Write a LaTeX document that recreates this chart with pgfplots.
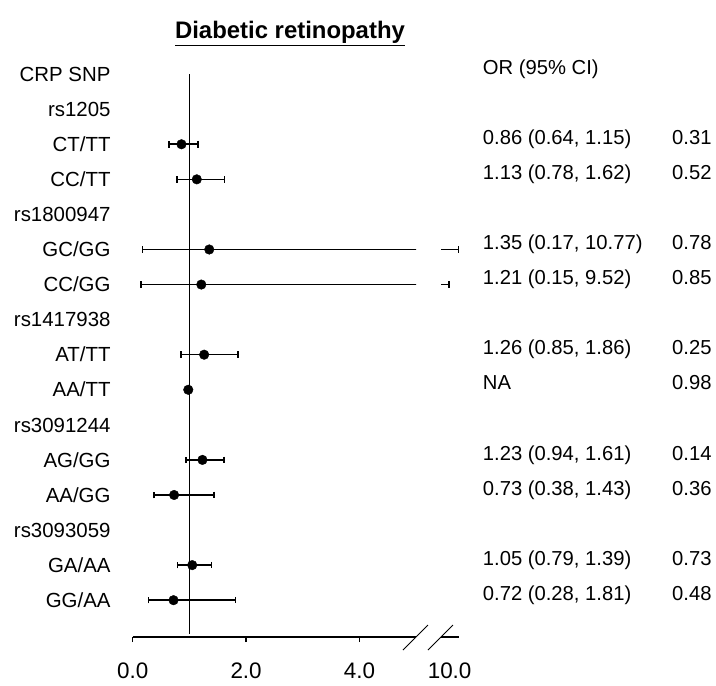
\documentclass[border=0pt]{standalone}
\usepackage{pgfplots}
\pgfplotsset{compat=1.18}
\usepackage{pgfplotstable}
\usepackage{fontspec}
\setmainfont{Liberation Sans}

\pgfplotstableread{
y or lo hi
-2 0.86 0.64 1.15
-3 1.13 0.78 1.62
-5 1.35 0.17 10.77
-6 1.21 0.15 9.52
-8 1.26 0.85 1.86
-11 1.23 0.94 1.61
-12 0.73 0.38 1.43
-14 1.05 0.79 1.39
-15 0.72 0.28 1.81
}\ordata

\pgfplotsset{
  forest/.style={
    scale only axis, height=580.4bp,
    ymin=-16.05, ymax=0.5,
    axis x line*=bottom, axis y line=none,
    x axis line style={line width=1.6bp},
    tick align=outside,
    major tick style={line width=1.4bp, black},
    xticklabel style={font=\fontsize{22.5}{26}\selectfont, inner sep=0pt, anchor=north},
    clip marker paths=true,
  },
  ciplot/.style={
    only marks, mark=*, mark size=4.8bp, black,
    error bars/.cd, x dir=both, x explicit,
    error bar style={line width=1.6bp, black},
    error mark=|,
    error mark options={mark size=3.3bp, line width=1.6bp, black},
  },
}

\begin{document}
\begin{tikzpicture}[x=1bp,y=1bp]
\begin{axis}[forest, at={(132.7bp,-637bp)}, anchor=south west,
  width=283.5bp, xmin=0, xmax=5,
  xtick={0,2,4}, xticklabels={0.0,2.0,4.0}, major tick length=5bp,
  xticklabel style={yshift=-21bp}]
  \addplot[black, line width=1.2bp] coordinates {(1,0) (1,-15.95)};
  \addplot[ciplot] table[x=or, y=y,
    x error plus expr=\thisrow{hi}-\thisrow{or},
    x error minus expr=\thisrow{or}-\thisrow{lo}] {\ordata};
  \addplot[only marks, mark=*, mark size=4.8bp, black] coordinates {(0.98,-9)};
\end{axis}
\begin{axis}[forest, at={(441bp,-637bp)}, anchor=south west,
  width=18bp, xmin=8.44, xmax=10.86,
  xtick={10}, xticklabels={10.0}, major tick length=0bp,
  xticklabel style={yshift=-26bp, xshift=-3bp}]
  \addplot[ciplot] table[x=or, y=y,
    x error plus expr=\thisrow{hi}-\thisrow{or},
    x error minus expr=\thisrow{or}-\thisrow{lo}] {\ordata};
\end{axis}
% axis break marks
\draw[line width=1bp] (403,-650) -- (428,-625);
\draw[line width=1bp] (428,-650) -- (453,-625);
% title
\node[anchor=base, inner sep=0pt, font=\bfseries\fontsize{24}{28}\selectfont] at (290,-38.6) {\underline{Diabetic retinopathy}};
% row labels
\foreach \k/\t in {0/CRP SNP, 1/rs1205, 2/CT\slash TT, 3/CC\slash TT, 4/rs1800947, 5/GC\slash GG, 6/CC\slash GG, 7/rs1417938, 8/AT\slash TT, 9/AA\slash TT, 10/rs3091244, 11/AG\slash GG, 12/AA\slash GG, 13/rs3093059, 14/GA\slash AA, 15/GG\slash AA}
  \node[anchor=base east, inner sep=0pt, font=\fontsize{20.5}{24}\selectfont] at (110.7,{-(74+35.07*\k+7.3)}) {\t};
% header
\node[anchor=base west, inner sep=0pt, font=\fontsize{20.3}{24}\selectfont] at (482.7,-74.3) {OR (95\% CI)};
% OR and p values
\foreach \k/\o/\p in {2/{0.86 (0.64, 1.15)}/0.31, 3/{1.13 (0.78, 1.62)}/0.52, 5/{1.35 (0.17, 10.77)}/0.78, 6/{1.21 (0.15, 9.52)}/0.85, 8/{1.26 (0.85, 1.86)}/0.25, 9/NA/0.98, 11/{1.23 (0.94, 1.61)}/0.14, 12/{0.73 (0.38, 1.43)}/0.36, 14/{1.05 (0.79, 1.39)}/0.73, 15/{0.72 (0.28, 1.81)}/0.48}
{
  \node[anchor=base west, inner sep=0pt, font=\fontsize{20.3}{24}\selectfont] at (482.7,{-(74+35.07*\k+0.3)}) {\o};
  \node[anchor=base west, inner sep=0pt, font=\fontsize{20.3}{24}\selectfont] at (672,{-(74+35.07*\k+0.3)}) {\p};
}
\pgfresetboundingbox
\path (0,0) rectangle (716,-686);
\end{tikzpicture}
\end{document}
